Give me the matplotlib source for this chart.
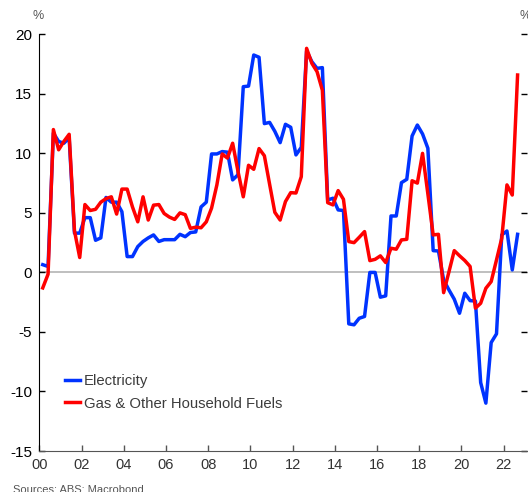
import numpy as np
import pandas as pd
import matplotlib.pyplot as plt
import matplotlib.dates as mdates

plt.rcParams['font.family'] = ['Liberation Sans', 'DejaVu Sans']
plt.rcParams['axes.unicode_minus'] = False

# quarterly annual % change, Mar 2000 .. Sep 2022
dates = pd.date_range('2000-03-01', periods=91, freq='3MS')

electricity = [
    0.65, 0.5, 11.7, 11.0, 10.85, 11.3, 3.3, 3.3, 4.6, 4.6,
    2.7, 2.9, 6.3, 5.9, 5.9, 5.1, 1.33, 1.33, 2.17, 2.6,
    2.9, 3.15, 2.6, 2.75, 2.75, 2.75, 3.2, 3.0, 3.35, 3.4,
    5.5, 5.9, 9.95, 9.95, 10.15, 10.1, 7.77, 8.2, 15.6, 15.65,
    18.26, 18.07, 12.5, 12.6, 11.85, 10.9, 12.44, 12.19, 9.87, 10.5,
    18.6, 17.7, 17.14, 17.2, 6.08, 6.23, 5.25, 5.2, -4.32, -4.4,
    -3.85, -3.7, 0.0, 0.0, -2.08, -1.97, 4.74, 4.74, 7.54, 7.82,
    11.46, 12.38, 11.63, 10.43, 1.83, 1.8, -0.63, -1.47, -2.25, -3.43,
    -1.75, -2.37, -2.4, -9.25, -10.98, -5.89, -5.16, 3.15, 3.48, 0.21,
    3.2,
]

gas = [
    -1.3, -0.15, 12.0, 10.3, 11.0, 11.6, 3.5, 1.25, 5.7, 5.2,
    5.3, 5.9, 6.2, 6.35, 4.9, 7.0, 7.0, 5.5, 4.25, 6.35,
    4.4, 5.65, 5.7, 4.95, 4.65, 4.45, 5.0, 4.85, 3.7, 3.8,
    3.75, 4.25, 5.4, 7.35, 9.95, 9.6, 10.85, 8.5, 6.35, 9.0,
    8.66, 10.4, 9.8, 7.4, 5.05, 4.4, 5.95, 6.7, 6.67, 8.04,
    18.82, 17.56, 16.86, 15.3, 5.86, 5.67, 6.87, 6.14, 2.59, 2.5,
    2.95, 3.43, 0.99, 1.1, 1.39, 0.83, 2.03, 1.95, 2.73, 2.78,
    7.7, 7.5, 10.0, 6.6, 3.15, 3.2, -1.7, 0.05, 1.83, 1.4,
    1.0, 0.5, -3.0, -2.59, -1.33, -0.77, 1.05, 2.87, 7.35, 6.5,
    16.58,
]

labels = ['Electricity', 'Gas & Other Household Fuels']

fig = plt.figure(figsize=(5.28, 4.92), dpi=100)
ax = fig.add_axes([0.0744, 0.0833, 0.9236, 0.847])

ax.axhline(0, color='#b4b4b4', linewidth=1.2, zorder=1)
ax.plot(dates, electricity, color='#0033ff', linewidth=2.5, label=labels[0], zorder=3)
ax.plot(dates, gas, color='#ff0000', linewidth=2.5, label=labels[1], zorder=4)

ax.set_xlim(pd.Timestamp('2000-01-01'), pd.Timestamp('2023-02-10'))
ax.set_ylim(-15, 20)
ax.set_yticks(np.arange(-15, 21, 5))
ax.xaxis.set_major_locator(mdates.YearLocator(2))
ax.xaxis.set_major_formatter(mdates.DateFormatter('%y'))

ax.spines['top'].set_visible(False)
ax.spines['right'].set_visible(False)
ax.spines['left'].set_color('#000000')
ax.spines['bottom'].set_color('#555555')

ax.tick_params(axis='y', direction='in', length=4, width=1, labelsize=11,
               colors='#000000', pad=5, right=True)
ax.tick_params(axis='x', direction='in', length=4, width=1, labelsize=10.5,
               colors='#555555', labelcolor='#333333', pad=5)

leg = ax.legend(loc='upper left', bbox_to_anchor=(0.04, 0.198), frameon=False,
                fontsize=10.7, handlelength=1.05, handletextpad=0.25,
                labelspacing=0.55, borderaxespad=0)
for t in leg.get_texts():
    t.set_color('#3c3c3c')

fig.text(38.5 / 528, 1 - 16 / 492, '%', fontsize=9, color='#555555',
         ha='center', va='center')
fig.text(520 / 528, 1 - 16 / 492, '%', fontsize=9, color='#555555',
         ha='left', va='center')
fig.text(13 / 528, 1 - 484 / 492, 'Sources: ABS; Macrobond', fontsize=8,
         color='#555555', ha='left', va='top')

fig.savefig('out.png', dpi=100)
